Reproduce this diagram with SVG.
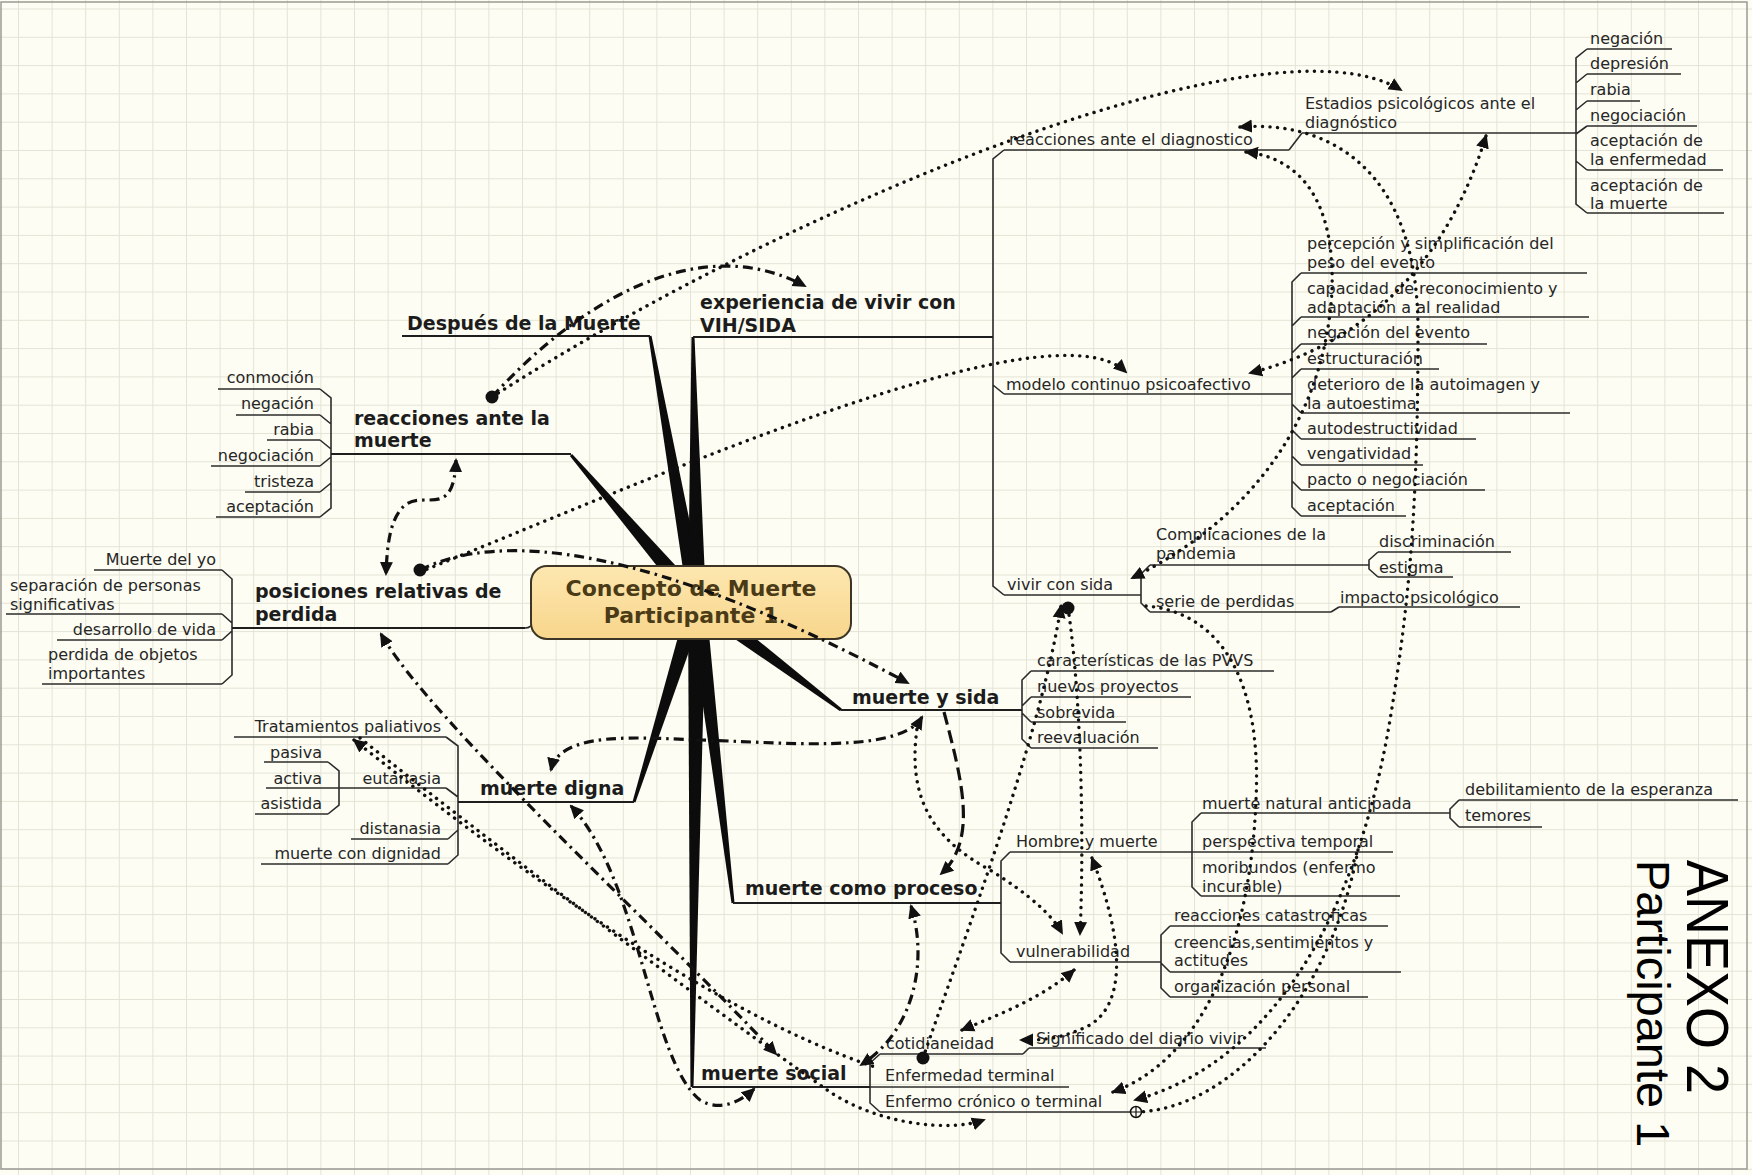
<svg xmlns="http://www.w3.org/2000/svg" width="1752" height="1175" viewBox="0 0 1752 1175">
<defs>
  <pattern id="grid" x="18" y="8.5" width="33.6" height="28.3" patternUnits="userSpaceOnUse">
    <path d="M0,0.5 H33.6 M0.5,0 V28.3" fill="none" stroke="#e3e3d6" stroke-width="1"/>
  </pattern>
  <linearGradient id="centralFill" x1="0" y1="0" x2="0" y2="1">
    <stop offset="0" stop-color="#fde7b0"/>
    <stop offset="1" stop-color="#f8d68c"/>
  </linearGradient>
  <marker id="ah" viewBox="0 0 14 14" refX="12" refY="7" markerWidth="14" markerHeight="14" markerUnits="userSpaceOnUse" orient="auto-start-reverse">
    <path d="M0,0.5 L14,7 L0,13.5 z" fill="#111"/>
  </marker>
  <marker id="dt" viewBox="-8 -8 16 16" refX="0" refY="0" markerWidth="16" markerHeight="16" markerUnits="userSpaceOnUse">
    <circle r="6.5" fill="#111"/>
  </marker>
  <marker id="oc" viewBox="-8 -8 16 16" refX="0" refY="0" markerWidth="16" markerHeight="16" markerUnits="userSpaceOnUse">
    <circle r="5.5" fill="#fdfdf3" stroke="#111" stroke-width="1.5"/>
    <path d="M-5.5,0 H5.5 M0,-5.5 V5.5" stroke="#111" stroke-width="1.2"/>
  </marker>
  <style>
    text { font-family: "DejaVu Sans", Verdana, sans-serif; font-size: 16px; fill: #262626; }
    .b { font-weight: bold; font-size: 19px; fill: #1c1c1c; }
    .c { font-weight: bold; font-size: 22px; fill: #4a3b16; text-anchor: middle; }
    .e { text-anchor: end; }
    .ul { fill: none; stroke: #2b2b2b; stroke-width: 1.6; }
    .ulm { fill: none; stroke: #1e1e1e; stroke-width: 2.2; }
    .sp { fill: none; stroke: #2b2b2b; stroke-width: 1.6; }
    .taper { fill: #0c0c0c; }
    .rel { fill: none; stroke: #111; stroke-width: 3.4; }
    .dot { stroke-dasharray: 0.1 7.4; stroke-linecap: round; }
    .dd { stroke-dasharray: 10 5 2.5 5; stroke-width: 3.2; }
    .dash { stroke-dasharray: 13 6; stroke-width: 3.2; }
    .side { font-family: "Liberation Sans", Arial, sans-serif; fill: #000; }
    .side-l { font-size: 54px; }
    .side-s { font-size: 47px; }
  </style>
</defs>

<!-- paper -->
<rect x="0" y="0" width="1752" height="1175" fill="#fdfdf3"/>
<rect x="0" y="0" width="1752" height="1175" fill="url(#grid)"/>
<rect x="1" y="2" width="1746" height="1167" fill="none" stroke="#9a9a94" stroke-width="1.5"/>

<!-- tree connectors: tapered main branches, spines and bevels -->
<g id="branches">
  <polygon class="taper" points="688.1,603.6 705.9,600.4 651.5,335.7 648.5,336.3"/>
  <polygon class="taper" points="688,602.1 706,601.9 694.5,337 691.5,337"/>
  <polygon class="taper" points="690.2,607.9 703.8,596.1 572.1,454 569.9,456"/>
  <polygon class="taper" points="691.6,609.2 702.4,594.8 841.9,708.8 840.1,711.2"/>
  <polygon class="taper" points="688.4,599.3 705.6,604.7 635.4,802.4 632.6,801.6"/>
  <polygon class="taper" points="688.1,603.1 705.9,600.9 734.5,902.8 731.5,903.2"/>
  <polygon class="taper" points="688,601.9 706,602.1 693.5,1087 690.5,1087"/>
  <path class="sp" d="M525,628 C530,628 532,626 533,622"/>

  <!-- reacciones ante la muerte -->
  <path class="sp" d="M320,389 L331,398 V508 L320,517 M320,415 L331,424 M320,440 L331,449 M320,466 L331,457 M320,492 L331,483"/>
  <!-- posiciones relativas de perdida -->
  <path class="sp" d="M222,570 L232,579 V675 L222,684 M222,614 L232,623 M222,640 L232,631"/>
  <!-- muerte digna / eutanasia -->
  <path class="sp" d="M446,737 L458,746 V855 L448,864 M446,788 L458,797 M448,839 L458,830"/>
  <path class="sp" d="M328,762 L339,771 V805 L328,814"/>
  <!-- experiencia de vivir con VIH/SIDA -->
  <path class="sp" d="M1004,150 L993,159 V586 L1004,595 M993,385 L1004,394"/>
  <path class="sp" d="M1289,150 L1302,133"/>
  <path class="sp" d="M1587,49 L1576,58 V204 L1587,213 M1576,83 L1587,74 M1576,110 L1587,101 M1576,134 L1587,126 M1576,161 L1587,170"/>
  <path class="sp" d="M1301,273 L1292,282 V507 L1301,516 M1292,326 L1301,317 M1292,353 L1301,344 M1292,378 L1301,369 M1292,404 L1301,413 M1292,430 L1301,439 M1292,456 L1301,465 M1292,481 L1301,490"/>
  <path class="sp" d="M1150,565 L1141,574 V603 L1150,612"/>
  <path class="sp" d="M1367,565 H1369 M1378,552 L1369,560 V569 L1378,577"/>
  <path class="sp" d="M1331,612 L1339,607"/>
  <!-- muerte y sida -->
  <path class="sp" d="M1031,671 L1022,680 V739 L1031,748 M1022,706 L1031,697 M1022,713 L1031,722"/>
  <!-- muerte como proceso -->
  <path class="sp" d="M1010,852 L1001,861 V953 L1010,962"/>
  <path class="sp" d="M1201,813 L1192,822 V887 L1201,896"/>
  <path class="sp" d="M1459,800 L1450,809 V818 L1459,827"/>
  <path class="sp" d="M1170,926 L1161,935 V988 L1170,997 M1161,963 L1170,972"/>
  <!-- muerte social -->
  <path class="sp" d="M880,1054 L870,1063 V1103 L880,1112"/>
  <path class="sp" d="M1023,1054 L1029,1048"/>
</g>

<!-- central topic -->
<g id="n-central">
  <rect x="531" y="566" width="320" height="73" rx="16" fill="url(#centralFill)" stroke="#3d3526" stroke-width="2"/>
  <text class="c" x="691" y="596">Concepto de Muerte</text>
  <text class="c" x="691" y="623">Participante 1</text>
</g>

<!-- main topics -->
<g id="n-despues"><text class="b" x="407" y="330">Después de la Muerte</text><path class="ulm" d="M402,336 H650"/></g>
<g id="n-experiencia"><text class="b" x="700" y="309">experiencia de vivir con</text><text class="b" x="700" y="332">VIH/SIDA</text><path class="ulm" d="M693,337 H993"/></g>
<g id="n-reac-muerte"><text class="b" x="354" y="425">reacciones ante la</text><text class="b" x="354" y="447">muerte</text><path class="ulm" d="M331,454 H571"/></g>
<g id="n-posiciones"><text class="b" x="255" y="598">posiciones relativas de</text><text class="b" x="255" y="621">perdida</text><path class="ulm" d="M232,628 H525"/></g>
<g id="n-muerte-sida"><text class="b" x="852" y="704">muerte y sida</text><path class="ulm" d="M841,710 H1022"/></g>
<g id="n-muerte-digna"><text class="b" x="480" y="795">muerte digna</text><path class="ulm" d="M458,802 H634"/></g>
<g id="n-como-proceso"><text class="b" x="745" y="895">muerte como proceso</text><path class="ulm" d="M733,903 H1001"/></g>
<g id="n-muerte-social"><text class="b" x="701" y="1080">muerte social</text><path class="ulm" d="M692,1087 H870"/></g>

<!-- reacciones ante la muerte: subtopics -->
<g id="n-conmocion"><text class="e" x="314" y="382.5">conmoción</text><path class="ul" d="M218,389 H320"/></g>
<g id="n-negacion-1"><text class="e" x="314" y="408.5">negación</text><path class="ul" d="M236,415 H320"/></g>
<g id="n-rabia-1"><text class="e" x="314" y="434.5">rabia</text><path class="ul" d="M267,440 H320"/></g>
<g id="n-negociacion-1"><text class="e" x="314" y="460.5">negociación</text><path class="ul" d="M211,466 H320"/></g>
<g id="n-tristeza"><text class="e" x="314" y="486.5">tristeza</text><path class="ul" d="M245,492 H320"/></g>
<g id="n-aceptacion-1"><text class="e" x="314" y="511.5">aceptación</text><path class="ul" d="M216,517 H320"/></g>

<!-- posiciones relativas de perdida: subtopics -->
<g id="n-muerte-yo"><text class="e" x="216" y="564.5">Muerte del yo</text><path class="ul" d="M94,570 H222"/></g>
<g id="n-separacion"><text x="10" y="590.5">separación de personas</text><text x="10" y="609.5">significativas</text><path class="ul" d="M6,614 H222"/></g>
<g id="n-desarrollo"><text class="e" x="216" y="634.5">desarrollo de vida</text><path class="ul" d="M57,640 H222"/></g>
<g id="n-objetos"><text x="48" y="659.5">perdida de objetos</text><text x="48" y="678.5">importantes</text><path class="ul" d="M42,684 H222"/></g>

<!-- muerte digna: subtopics -->
<g id="n-tratamientos"><text class="e" x="441" y="731.5">Tratamientos paliativos</text><path class="ul" d="M234,737 H446"/></g>
<g id="n-eutanasia"><text class="e" x="441" y="783.5">eutanasia</text><path class="ul" d="M339,788 H446"/></g>
<g id="n-pasiva"><text class="e" x="322" y="757.5">pasiva</text><path class="ul" d="M264,762 H328"/></g>
<g id="n-activa"><text class="e" x="322" y="783.5">activa</text><path class="ul" d="M266,788 H339"/></g>
<g id="n-asistida"><text class="e" x="322" y="808.5">asistida</text><path class="ul" d="M255,814 H328"/></g>
<g id="n-distanasia"><text class="e" x="441" y="833.5">distanasia</text><path class="ul" d="M351,839 H448"/></g>
<g id="n-dignidad"><text class="e" x="441" y="858.5">muerte con dignidad</text><path class="ul" d="M261,864 H448"/></g>

<!-- experiencia de vivir con VIH/SIDA: subtopics -->
<g id="n-reac-diag"><text x="1009" y="144.5">reacciones ante el diagnostico</text><path class="ul" d="M1004,150 H1289"/></g>
<g id="n-estadios"><text x="1305" y="108.5">Estadios psicológicos ante el</text><text x="1305" y="127.5">diagnóstico</text><path class="ul" d="M1302,133 H1576"/></g>
<g id="n-negacion-2"><text x="1590" y="43.5">negación</text><path class="ul" d="M1587,49 H1672"/></g>
<g id="n-depresion"><text x="1590" y="68.5">depresión</text><path class="ul" d="M1587,74 H1681"/></g>
<g id="n-rabia-2"><text x="1590" y="94.5">rabia</text><path class="ul" d="M1587,101 H1640"/></g>
<g id="n-negociacion-2"><text x="1590" y="120.5">negociación</text><path class="ul" d="M1587,126 H1697"/></g>
<g id="n-acept-enfermedad"><text x="1590" y="145.5">aceptación de</text><text x="1590" y="164.5">la enfermedad</text><path class="ul" d="M1587,170 H1723"/></g>
<g id="n-acept-muerte"><text x="1590" y="190.5">aceptación de</text><text x="1590" y="208.5">la muerte</text><path class="ul" d="M1587,213 H1724"/></g>

<g id="n-modelo"><text x="1006" y="389.5">modelo continuo psicoafectivo</text><path class="ul" d="M1004,394 H1292"/></g>
<g id="n-percepcion"><text x="1307" y="248.5">percepción y simplificación del</text><text x="1307" y="267.5">peso del evento</text><path class="ul" d="M1301,273 H1587"/></g>
<g id="n-capacidad"><text x="1307" y="293.5">capacidad de reconocimiento y</text><text x="1307" y="312.5">adaptación a al realidad</text><path class="ul" d="M1301,317 H1589"/></g>
<g id="n-negacion-evento"><text x="1307" y="337.5">negación del evento</text><path class="ul" d="M1301,344 H1487"/></g>
<g id="n-estructuracion"><text x="1307" y="363.5">estructuración</text><path class="ul" d="M1301,369 H1439"/></g>
<g id="n-deterioro"><text x="1307" y="389.5">deterioro de la autoimagen y</text><text x="1307" y="408.5">la autoestima</text><path class="ul" d="M1301,413 H1570"/></g>
<g id="n-autodestructividad"><text x="1307" y="433.5">autodestructividad</text><path class="ul" d="M1301,439 H1476"/></g>
<g id="n-vengatividad"><text x="1307" y="458.5">vengatividad</text><path class="ul" d="M1301,465 H1423"/></g>
<g id="n-pacto"><text x="1307" y="484.5">pacto o negociación</text><path class="ul" d="M1301,490 H1485"/></g>
<g id="n-aceptacion-2"><text x="1307" y="510.5">aceptación</text><path class="ul" d="M1301,516 H1406"/></g>

<g id="n-vivir"><text x="1007" y="589.5">vivir con sida</text><path class="ul" d="M1004,595 H1141"/></g>
<g id="n-complicaciones"><text x="1156" y="539.5">Complicaciones de la</text><text x="1156" y="558.5">pandemia</text><path class="ul" d="M1150,565 H1367"/></g>
<g id="n-discriminacion"><text x="1379" y="546.5">discriminación</text><path class="ul" d="M1378,552 H1511"/></g>
<g id="n-estigma"><text x="1379" y="572.5">estigma</text><path class="ul" d="M1378,577 H1453"/></g>
<g id="n-serie"><text x="1156" y="606.5">serie de perdidas</text><path class="ul" d="M1150,612 H1331"/></g>
<g id="n-impacto"><text x="1340" y="602.5">impacto psicológico</text><path class="ul" d="M1339,607 H1520"/></g>

<!-- muerte y sida: subtopics -->
<g id="n-caracteristicas"><text x="1037" y="665.5">características de las PVVS</text><path class="ul" d="M1031,671 H1274"/></g>
<g id="n-nuevos"><text x="1037" y="691.5">nuevos proyectos</text><path class="ul" d="M1031,697 H1191"/></g>
<g id="n-sobrevida"><text x="1037" y="717.5">sobrevida</text><path class="ul" d="M1031,722 H1126"/></g>
<g id="n-reevaluacion"><text x="1037" y="742.5">reevaluación</text><path class="ul" d="M1031,748 H1158"/></g>

<!-- muerte como proceso: subtopics -->
<g id="n-hombre"><text x="1016" y="846.5">Hombre y muerte</text><path class="ul" d="M1010,852 H1192"/></g>
<g id="n-natural"><text x="1202" y="808.5">muerte natural anticipada</text><path class="ul" d="M1201,813 H1450"/></g>
<g id="n-debilitamiento"><text x="1465" y="794.5">debilitamiento de la esperanza</text><path class="ul" d="M1459,800 H1738"/></g>
<g id="n-temores"><text x="1465" y="820.5">temores</text><path class="ul" d="M1459,827 H1542"/></g>
<g id="n-perspectiva"><text x="1202" y="846.5">perspectiva temporal</text><path class="ul" d="M1192,852 H1393"/></g>
<g id="n-moribundos"><text x="1202" y="872.5">moribundos (enfermo</text><text x="1202" y="891.5">incurable)</text><path class="ul" d="M1201,896 H1400"/></g>
<g id="n-vulnerabilidad"><text x="1016" y="956.5">vulnerabilidad</text><path class="ul" d="M1010,962 H1161"/></g>
<g id="n-catastroficas"><text x="1174" y="920.5">reacciones catastroficas</text><path class="ul" d="M1170,926 H1388"/></g>
<g id="n-creencias"><text x="1174" y="947.5">creencias,sentimientos y</text><text x="1174" y="965.5">actitudes</text><path class="ul" d="M1170,972 H1401"/></g>
<g id="n-organizacion"><text x="1174" y="991.5">organización personal</text><path class="ul" d="M1170,997 H1368"/></g>

<!-- muerte social: subtopics -->
<g id="n-cotidianeidad"><text x="886" y="1048.5">cotidianeidad</text><path class="ul" d="M880,1054 H1023"/></g>
<g id="n-significado"><text x="1036" y="1043.5">Significado del diario vivir</text><path class="ul" d="M1029,1048 H1266"/></g>
<g id="n-enf-terminal"><text x="885" y="1080.5">Enfermedad terminal</text><path class="ul" d="M870,1087 H1069"/></g>
<g id="n-enf-cronico"><text x="885" y="1106.5">Enfermo crónico o terminal</text><path class="ul" d="M880,1112 H1133"/></g>

<!-- side caption, set vertically -->
<g id="caption">
  <text class="side side-l" transform="translate(1687,860) scale(1.1,1) rotate(90)">ANEXO 2</text>
  <text class="side side-s" transform="translate(1637,860) rotate(90)">Participante 1</text>
</g>

<!-- relationship lines -->
<g id="relations">
  <path class="rel dot" d="M492,397 C800,200 1270,10 1401,90" marker-end="url(#ah)"/>
  <path class="rel dd" d="M492,397 C580,300 700,230 805,286" marker-start="url(#dt)" marker-end="url(#ah)"/>
  <path class="rel dot" d="M420,572 C650,480 1050,300 1126,372" marker-end="url(#ah)"/>
  <path class="rel dd" d="M420,570 C500,530 650,545 908,683" marker-start="url(#dt)" marker-end="url(#ah)"/>
  <path class="rel dd" d="M456,460 C454,520 425,490 405,505 C390,518 387,545 386,574" marker-start="url(#ah)" marker-end="url(#ah)"/>
  <path class="rel dd" d="M381,634 C430,720 650,920 776,1054" marker-start="url(#ah)" marker-end="url(#ah)"/>
  <path class="rel dot" d="M354,740 C480,840 700,1010 878,1068" marker-start="url(#ah)"/>
  <path class="rel dot" d="M360,738 C500,850 700,1000 830,1092 C880,1125 950,1132 984,1120" marker-end="url(#ah)"/>
  <path class="rel dd" d="M571,806 C640,880 650,1060 700,1100 C720,1112 740,1102 754,1089" marker-start="url(#ah)" marker-end="url(#ah)"/>
  <path class="rel dd" d="M551,770 C560,730 640,738 700,740 C780,742 900,755 922,717" marker-start="url(#ah)" marker-end="url(#ah)"/>
  <path class="rel dash" d="M944,712 C962,780 978,840 941,874" marker-end="url(#ah)"/>
  <path class="rel dot" d="M918,722 C905,800 935,840 990,870 C1030,895 1052,915 1062,933" marker-end="url(#ah)"/>
  <path class="rel dot" d="M1068,608 C1082,700 1084,850 1080,934" marker-start="url(#dt)" marker-end="url(#ah)"/>
  <path class="rel dot" d="M923,1058 C960,950 1040,740 1061,606" marker-start="url(#dt)" marker-end="url(#ah)"/>
  <path class="rel dot" d="M1092,858 C1120,930 1130,1000 1090,1025 C1060,1040 1040,1040 1021,1040" marker-start="url(#ah)" marker-end="url(#ah)"/>
  <path class="rel dot" d="M1074,970 C1040,1000 990,1018 962,1030" marker-start="url(#ah)" marker-end="url(#ah)"/>
  <path class="rel dd" d="M911,906 C928,960 915,1030 861,1065" marker-start="url(#ah)" marker-end="url(#ah)"/>
  <path class="rel dot" d="M1240,127 C1330,120 1418,170 1418,330 C1418,500 1410,600 1390,720 C1360,900 1280,1060 1135,1100" marker-start="url(#ah)" marker-end="url(#ah)"/>
  <path class="rel dot" d="M1246,152 C1300,158 1335,200 1332,290 C1325,420 1250,520 1132,578" marker-start="url(#ah)" marker-end="url(#ah)"/>
  <path class="rel dot" d="M1486,136 C1460,220 1400,335 1250,373" marker-start="url(#ah)" marker-end="url(#ah)"/>
  <path class="rel dot" d="M1146,606 C1220,612 1262,680 1256,800 C1250,950 1200,1060 1113,1092" marker-end="url(#ah)"/>
  <path class="rel dot" d="M1136,1112 C1230,1110 1330,1000 1358,850" marker-start="url(#oc)"/>
</g>
</svg>
